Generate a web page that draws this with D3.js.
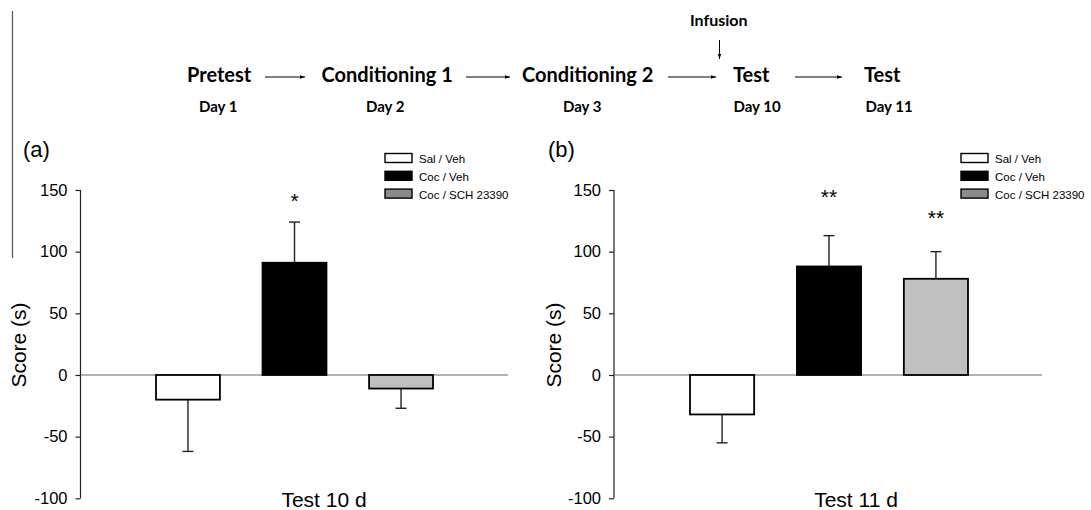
<!DOCTYPE html>
<html>
<head>
<meta charset="utf-8">
<script src="https://cdn.jsdelivr.net/npm/d3@7"></script>
<style>
  body { margin: 0; background: #fff; }
  svg { display: block; }
  .axis text { font-family: "Liberation Sans", Arial, sans-serif; font-size: 16.5px; fill: #000; }
  .axis path, .axis line { stroke: #222; stroke-width: 1.2; }
  .flow { font-family: Lato, "Open Sans", sans-serif; font-weight: bold; fill: #000; }
  .sans { font-family: "Liberation Sans", Arial, sans-serif; fill: #000; }
</style>
</head>
<body>
<div id="chart"></div>
<script>
var width = 1091, height = 510;

// groups + legend
var groups = ["Sal / Veh", "Coc / Veh", "Coc / SCH 23390"];
var barFill = ["#ffffff", "#000000", "#c0c0c0"];
var legendFill = ["#ffffff", "#000000", "#8a8a8a"];

// panel (a) Test 10 d
var test10Means = [-20, 91, -11];
var test10Sem = [42, 33, 16];
var test10Stars = ["", "*", ""];
var test10StarAt = [0, 147, 0];

// panel (b) Test 11 d
var test11Means = [-32, 88, 78];
var test11Sem = [23, 25, 22];
var test11Stars = ["", "**", "**"];
var test11StarAt = [0, 150, 133];

var yTicks = [-100, -50, 0, 50, 100, 150];

// timeline above the panels
var steps = ["Pretest", "Conditioning 1", "Conditioning 2", "Test", "Test"];
var stepDays = ["Day 1", "Day 2", "Day 3", "Day 10", "Day 11"];

var svg = d3.select("#chart").append("svg")
  .attr("width", width).attr("height", height);

// left rule
svg.append("line").attr("x1", 12.5).attr("x2", 12.5).attr("y1", 11).attr("y2", 258)
  .attr("stroke", "#555").attr("stroke-width", 1.2);

// ---- timeline
var stepX = [187, 321.5, 522, 733, 864];
var dayX = [199, 366, 563, 733.5, 865.5];
var arrows = [[265, 305], [466, 510], [668, 716], [795, 842]];

svg.append("defs").append("marker").attr("id", "ah")
  .attr("viewBox", "0 0 10 10").attr("refX", 10).attr("refY", 5)
  .attr("markerWidth", 5).attr("markerHeight", 5).attr("orient", "auto")
  .attr("markerUnits", "userSpaceOnUse")
  .append("path").attr("d", "M0,1.5L10,5L0,8.5z").attr("fill", "#000");

svg.selectAll("text.step").data(steps).enter().append("text")
  .attr("class", "flow step").attr("x", function(d, i) { return stepX[i]; })
  .attr("y", 82).style("font-size", "20px").text(function(d) { return d; });
svg.selectAll("text.day").data(stepDays).enter().append("text")
  .attr("class", "flow day").attr("x", function(d, i) { return dayX[i]; })
  .attr("y", 112).style("font-size", "15px").text(function(d) { return d; });
svg.selectAll("line.arr").data(arrows).enter().append("line")
  .attr("class", "arr").attr("x1", function(d) { return d[0]; }).attr("x2", function(d) { return d[1]; })
  .attr("y1", 77).attr("y2", 77).attr("stroke", "#000").attr("stroke-width", 1)
  .attr("marker-end", "url(#ah)");
svg.append("text").attr("class", "flow").attr("x", 690).attr("y", 26)
  .style("font-size", "16px").text("Infusion");
svg.append("line").attr("x1", 719.5).attr("x2", 719.5).attr("y1", 40).attr("y2", 59)
  .attr("stroke", "#000").attr("marker-end", "url(#ah)");

// ---- panels
function panel(opt) {
  var g = svg.append("g");
  var y = d3.scaleLinear().domain([-100, 150]).range([498.3, 190]);
  var x = d3.scaleBand().domain(groups).range([opt.x0, opt.x1]).paddingInner(0.4).paddingOuter(0);

  g.append("g").attr("class", "axis").attr("transform", "translate(" + opt.axisX + ",0)")
    .call(d3.axisLeft(y).tickValues(yTicks).tickSize(5).tickSizeOuter(0).tickPadding(8)
      .tickFormat(function(d) { return String(d); }));
  g.select(".axis .domain").attr("d", "M0," + y(150) + "V" + y(-100));

  g.append("line").attr("x1", opt.axisX).attr("x2", opt.zeroEnd)
    .attr("y1", y(0)).attr("y2", y(0)).attr("stroke", "#666").attr("stroke-width", 1.2);

  // error bars (one-sided, away from zero)
  groups.forEach(function(gr, i) {
    var m = opt.means[i], e = opt.sem[i];
    var cx = x(gr) + x.bandwidth() / 2;
    var tip = m >= 0 ? m + e : m - e;
    g.append("line").attr("x1", cx).attr("x2", cx).attr("y1", y(m)).attr("y2", y(tip))
      .attr("stroke", "#222").attr("stroke-width", 1.4);
    g.append("line").attr("x1", cx - 5.5).attr("x2", cx + 5.5).attr("y1", y(tip)).attr("y2", y(tip))
      .attr("stroke", "#222").attr("stroke-width", 1.4);
  });

  g.selectAll("rect.bar").data(opt.means).enter().append("rect")
    .attr("class", "bar")
    .attr("x", function(d, i) { return x(groups[i]); })
    .attr("width", x.bandwidth())
    .attr("y", function(d) { return y(Math.max(0, d)); })
    .attr("height", function(d) { return Math.abs(y(d) - y(0)); })
    .attr("fill", function(d, i) { return barFill[i]; })
    .attr("stroke", "#000").attr("stroke-width", 1.8);

  g.selectAll("text.star").data(opt.stars).enter().append("text")
    .attr("class", "star sans")
    .attr("x", function(d, i) { return x(groups[i]) + x.bandwidth() / 2; })
    .attr("y", function(d, i) { return y(opt.starAt[i]) + 14; })
    .attr("text-anchor", "middle").style("font-size", "21px")
    .text(function(d) { return d; });

  g.append("text").attr("class", "sans")
    .attr("transform", "translate(" + opt.ylabX + ",345)rotate(-90)")
    .attr("text-anchor", "middle").style("font-size", "21px")
    .text("Score (s)");

  g.append("text").attr("class", "sans").attr("x", opt.titleX).attr("y", 507)
    .attr("text-anchor", "middle").style("font-size", "21px")
    .text(opt.title);

  g.append("text").attr("class", "sans").attr("x", opt.tagX).attr("y", 157)
    .style("font-size", "22px").text(opt.tag);

  // legend
  var lg = g.append("g").attr("transform", "translate(" + opt.legX + ",153.5)");
  groups.forEach(function(gr, i) {
    lg.append("rect").attr("x", 0).attr("y", i * 17.8).attr("width", 27).attr("height", 9)
      .attr("fill", legendFill[i]).attr("stroke", "#000").attr("stroke-width", 1.4);
    lg.append("text").attr("class", "sans").attr("x", 34).attr("y", i * 17.8 + 9.5)
      .style("font-size", "11.5px").text(gr);
  });
}

panel({ x0: 156, x1: 433, axisX: 80.5, zeroEnd: 508, means: test10Means, sem: test10Sem,
  stars: test10Stars, starAt: test10StarAt, ylabX: 26, titleX: 324, title: "Test 10 d",
  tag: "(a)", tagX: 23, legX: 385 });
panel({ x0: 690, x1: 968, axisX: 614, zeroEnd: 1042, means: test11Means, sem: test11Sem,
  stars: test11Stars, starAt: test11StarAt, ylabX: 561, titleX: 856, title: "Test 11 d",
  tag: "(b)", tagX: 548, legX: 961 });
</script>
</body>
</html>
